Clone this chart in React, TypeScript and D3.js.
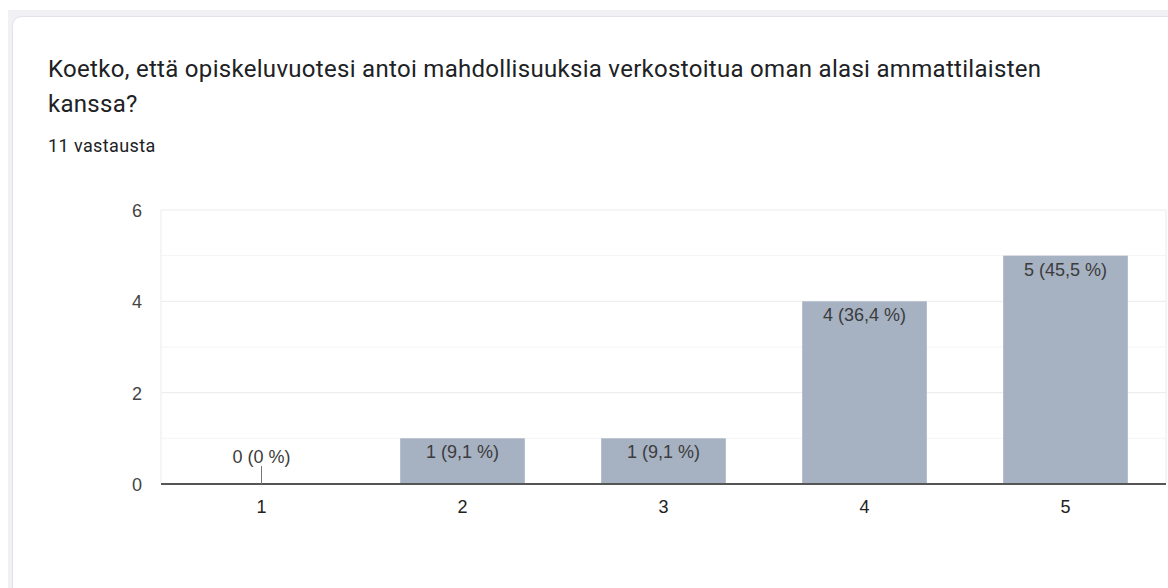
import React from "react";
import * as d3 from "d3";

const title1 = "Koetko, että opiskeluvuotesi antoi mahdollisuuksia verkostoitua oman alasi ammattilaisten";
const title2 = "kanssa?";
const subtitle = "11 vastausta";
const categories = ["1", "2", "3", "4", "5"];
const counts = [0, 1, 1, 4, 5];
const percents = ["0 %", "9,1 %", "9,1 %", "36,4 %", "45,5 %"];
const yTicks = [0, 2, 4, 6];
const yMinor = [1, 3, 5];

const W = 1168;
const H = 588;
const plot = { left: 161, right: 1166, top: 210, bottom: 484 };

export default function App() {
  const x = d3
    .scaleBand<string>()
    .domain(categories)
    .range([plot.left, plot.right])
    .paddingInner(0.38)
    .paddingOuter(0.19);
  const y = d3.scaleLinear().domain([0, 6]).range([plot.bottom, plot.top]);
  const chartFont = "'Liberation Sans', Arial, sans-serif";
  const titleFont = "Roboto, 'Noto Sans', sans-serif";

  return (
    <div style={{ position: "absolute", left: 0, top: 0 }}>
      <svg width={W} height={H} style={{ display: "block" }}>
        <rect x={0} y={0} width={W} height={H} fill="#ffffff" />
        <rect x={8} y={10} width={W} height={H} fill="#f1f1f5" />
        <rect
          x={12.5}
          y={16.5}
          width={W + 40}
          height={H + 40}
          rx={9}
          fill="#ffffff"
          stroke="#e2e2e8"
        />
        <text x={48} y={77} fontFamily={titleFont} fontSize={24} letterSpacing={0.3} fill="#202124">
          {title1}
        </text>
        <text x={48} y={112} fontFamily={titleFont} fontSize={24} letterSpacing={0.3} fill="#202124">
          {title2}
        </text>
        <text x={48} y={152} fontFamily={titleFont} fontSize={18} letterSpacing={0.4} fill="#202124">
          {subtitle}
        </text>

        {yMinor.map((t) => (
          <line key={"m" + t} x1={plot.left} x2={plot.right} y1={y(t)} y2={y(t)} stroke="#f4f4f4" />
        ))}
        {yTicks.filter((t) => t > 0).map((t) => (
          <line key={"g" + t} x1={plot.left} x2={plot.right} y1={y(t)} y2={y(t)} stroke="#ebebeb" />
        ))}
        <line x1={plot.left} x2={plot.left} y1={plot.top} y2={plot.bottom} stroke="#ebebeb" />
        <line x1={plot.right} x2={plot.right} y1={plot.top} y2={plot.bottom} stroke="#ebebeb" />

        {categories.map((c, i) => (
          <rect
            key={"b" + c}
            x={x(c)}
            y={y(counts[i])}
            width={x.bandwidth()}
            height={plot.bottom - y(counts[i])}
            fill="#a6b1c2"
          />
        ))}

        <line x1={plot.left} x2={plot.right} y1={plot.bottom} y2={plot.bottom} stroke="#555" strokeWidth={2} />

        {categories.map((c, i) => {
          const cx = (x(c) as number) + x.bandwidth() / 2;
          const label = `${counts[i]} (${percents[i]})`;
          if (counts[i] === 0) {
            return (
              <g key={"l" + c}>
                <line x1={cx} x2={cx} y1={plot.bottom - 18} y2={plot.bottom} stroke="#777" />
                <text x={cx} y={463} textAnchor="middle" fontFamily={chartFont} fontSize={18} fill="#3c3c3c">
                  {label}
                </text>
              </g>
            );
          }
          return (
            <text
              key={"l" + c}
              x={cx}
              y={y(counts[i]) + 20}
              textAnchor="middle"
              fontFamily={chartFont}
              fontSize={18}
              fill="#3c3c3c"
            >
              {label}
            </text>
          );
        })}

        {yTicks.map((t) => (
          <text key={"yt" + t} x={142} y={y(t) + 7} textAnchor="end" fontFamily={chartFont} fontSize={18} fill="#444">
            {t}
          </text>
        ))}
        {categories.map((c) => (
          <text
            key={"xt" + c}
            x={(x(c) as number) + x.bandwidth() / 2}
            y={513}
            textAnchor="middle"
            fontFamily={chartFont}
            fontSize={18}
            fill="#222"
          >
            {c}
          </text>
        ))}
      </svg>
    </div>
  );
}
